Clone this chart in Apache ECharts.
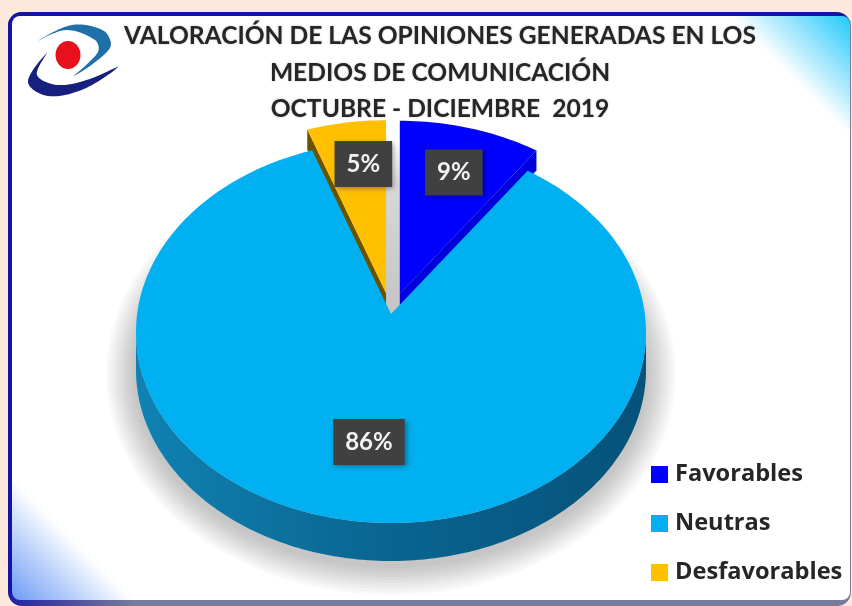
<!DOCTYPE html>
<html lang="es">
<head>
  <meta charset="UTF-8">
  <style>
    html, body { margin: 0; padding: 0; background: #fde9dc; }
    #container { width: 852px; height: 606px; }
  </style>
  <script src="https://cdn.jsdelivr.net/npm/echarts@6/dist/echarts.min.js"></script>
</head>
<body>
  <div id="container"></div>
  <script>
    var titleText = 'VALORACIÓN DE LAS OPINIONES GENERADAS EN LOS\nMEDIOS DE COMUNICACIÓN\nOCTUBRE - DICIEMBRE  2019';
    var categories = ['Favorables', 'Neutras', 'Desfavorables'];
    var values = [9, 86, 5];
    var colors = ['#0000ff', '#00b0f0', '#ffc000'];
    var sideColors = ['#0000dc', '#0a6f9c', '#6b5200'];

    // the tilted pie: ellipse, slice apex sits above the ellipse centre
    var cx = 391, cy = 332, rx = 255, ry = 191;
    var apexLift = 18, sideDepth = 38, cutDepth = 20;
    var explode = [21, 0, 21];
    var labelFx = [0.76, 0.69, 0.57];
    var labelFy = [0.76, 0.58, 0.78];
    var total = values.reduce(function (a, b) { return a + b; }, 0);

    function startAngle(i) {
      var s = 0;
      for (var k = 0; k < i; k++) s += values[k];
      return s / total * Math.PI * 2;
    }
    function rim(a, ox, oy) {
      return [cx + ox + rx * Math.sin(a), cy + oy - ry * Math.cos(a)];
    }
    function arc(a0, a1, ox, oy) {
      var pts = [];
      var n = Math.max(4, Math.round((a1 - a0) / 0.02));
      for (var j = 0; j <= n; j++) pts.push(rim(a0 + (a1 - a0) * j / n, ox, oy));
      return pts;
    }

    function renderSlice(i) {
      return function (params, api) {
        var a0 = startAngle(i);
        var a1 = a0 + api.value(0) / total * Math.PI * 2;
        var mid = (a0 + a1) / 2;
        var ox = explode[i] * Math.sin(mid) * 1.5;
        var oy = -explode[i] * Math.abs(Math.cos(mid));
        var apex = [cx + ox, cy + oy - apexLift];
        var kids = [];
        if (explode[i] > 0) {
          // cut face that shows under the pulled-out slice
          var edge = i === 0 ? a1 : a0;
          var c = rim(edge, ox, oy);
          kids.push({
            type: 'polygon',
            shape: { points: [apex, c, [c[0], c[1] + cutDepth], [apex[0], apex[1] + cutDepth]] },
            style: { fill: sideColors[i] }
          });
        } else {
          // front wall of the big slice
          var front = arc(Math.PI / 2, Math.PI * 1.5, 0, 0)
            .concat(arc(Math.PI / 2, Math.PI * 1.5, 0, sideDepth).reverse());
          kids.push({
            type: 'polygon',
            shape: { points: front },
            style: {
              fill: new echarts.graphic.LinearGradient(0, 0, 1, 0, [
                { offset: 0, color: '#0f82b3' },
                { offset: 0.5, color: '#0a6490' },
                { offset: 1, color: '#05527a' }
              ])
            }
          });
        }
        kids.push({
          type: 'polygon',
          shape: { points: [apex].concat(arc(a0, a1, ox, oy)) },
          style: { fill: colors[i] }
        });
        return { type: 'group', children: kids };
      };
    }

    function renderLabel(i) {
      return function (params, api) {
        var a0 = startAngle(i);
        var a1 = a0 + api.value(0) / total * Math.PI * 2;
        var mid = (a0 + a1) / 2;
        var ox = explode[i] * Math.sin(mid) * 1.5;
        var oy = -explode[i] * Math.abs(Math.cos(mid));
        return {
          type: 'text',
          style: {
            x: cx + ox + rx * Math.sin(mid) * labelFx[i],
            y: cy + oy - ry * Math.cos(mid) * labelFy[i],
            text: api.value(0) + '%',
            align: 'center',
            verticalAlign: 'middle',
            fill: '#f2f2f2',
            font: 'bold 24px Lato',
            backgroundColor: '#404040',
            padding: [11, 12, 11, 12],
            shadowColor: 'rgba(0,0,0,0.35)',
            shadowBlur: 5,
            shadowOffsetX: 2,
            shadowOffsetY: 2
          }
        };
      };
    }

    var sliceSeries = [0, 2, 1].map(function (i) {
      return {
        type: 'custom',
        name: categories[i],
        coordinateSystem: 'none',
        itemStyle: { color: colors[i] },
        data: [[values[i]]],
        renderItem: renderSlice(i),
        silent: true
      };
    });

    var labelSeries = [0, 1, 2].map(function (i) {
      return {
        type: 'custom',
        name: 'etiqueta' + i,
        coordinateSystem: 'none',
        z: 5,
        data: [[values[i]]],
        renderItem: renderLabel(i),
        silent: true
      };
    });

    // soft grey halo under the pie wall, stacked translucent ellipses
    var haloSeries = {
      type: 'custom',
      name: 'sombra',
      coordinateSystem: 'none',
      data: [[0]],
      silent: true,
      renderItem: function () {
        var rings = [];
        for (var k = 10; k >= 1; k--) {
          var pts = [];
          for (var j = 0; j < 180; j++) {
            var a = j / 180 * Math.PI * 2;
            pts.push([cx + (rx + k * 3) * Math.sin(a), cy + sideDepth + 4 - (ry + k * 3) * Math.cos(a)]);
          }
          rings.push({ type: 'polygon', shape: { points: pts }, style: { fill: 'rgba(0,0,0,0.024)' } });
        }
        return { type: 'group', children: rings };
      }
    };

    // grey shadow left in the gap between the two pulled-out slices
    var gapSeries = {
      type: 'custom',
      name: 'hueco',
      coordinateSystem: 'none',
      data: [[values[2]]],
      silent: true,
      renderItem: function (params, api) {
        var a = api.value(0) / total * Math.PI * 2;
        return {
          type: 'polygon',
          shape: { points: [[cx, cy - apexLift]].concat(arc(-a, 0.5, 0, 0)) },
          style: {
            fill: new echarts.graphic.LinearGradient(0, 0, 0, 1, [
              { offset: 0, color: '#ffffff' },
              { offset: 0.25, color: '#d8d8d8' },
              { offset: 1, color: '#c4c4c4' }
            ])
          }
        };
      }
    };

    var myChart = echarts.init(document.getElementById('container'));
    myChart.setOption({
      backgroundColor: '#fde9dc',
      animation: false,
      title: {
        text: titleText,
        left: 435,
        top: 13,
        textAlign: 'center',
        textStyle: {
          fontFamily: 'Lato',
          fontWeight: 'bold',
          fontSize: 24.6,
          lineHeight: 36.5,
          color: '#262626',
          textShadowColor: 'rgba(0,0,0,0.25)',
          textShadowBlur: 2
        }
      },
      legend: {
        data: categories,
        orient: 'vertical',
        left: 651,
        top: 462,
        padding: 0,
        icon: 'rect',
        itemWidth: 17,
        itemHeight: 17,
        itemGap: 24,
        selectedMode: false,
        textStyle: {
          fontFamily: 'Open Sans',
          fontWeight: 'bold',
          fontSize: 23.6,
          color: '#262626',
          lineHeight: 23,
          padding: [2, 0, 0, 2]
        }
      },
      graphic: [
        {
          type: 'rect', z: -10, shape: { x: 8, y: 12, width: 843, height: 594, r: 14 },
          style: {
            fill: new echarts.graphic.LinearGradient(0, 0, 1, 0, [
              { offset: 0, color: '#2020a4' },
              { offset: 0.15, color: '#777c9c' },
              { offset: 1, color: '#777c9c' }
            ])
          }
        },
        { type: 'rect', z: -9, shape: { x: 8, y: 12, width: 842, height: 588, r: 14 }, style: { fill: '#1414a8' } },
        {
          type: 'rect', z: -8, shape: { x: 12, y: 16, width: 838, height: 584, r: 8 },
          style: {
            fill: new echarts.graphic.LinearGradient(850, 16, 140, 726, [
              { offset: 0, color: '#22c8fb' },
              { offset: 0.085, color: '#ffffff' },
              { offset: 0.915, color: '#ffffff' },
              { offset: 1, color: '#6f9cf6' }
            ], true)
          }
        },
        // logo
        {
          type: 'polygon', z: -7,
          shape: { smooth: 0.35, points: [[118, 67], [84, 89], [48, 96], [28, 82], [47, 53], [37, 75], [58, 85], [90, 79]] },
          style: { fill: '#17207e' }
        },
        {
          type: 'polygon', z: -7,
          shape: { smooth: 0.35, points: [[38, 41], [72, 25], [104, 31], [110, 48], [74, 76], [98, 52], [95, 40], [66, 30]] },
          style: { fill: '#1f6fa8' }
        },
        { type: 'ellipse', z: -6, shape: { cx: 68, cy: 55, rx: 12.5, ry: 14 }, style: { fill: '#e8101c' } }
      ],
      series: [haloSeries, gapSeries].concat(sliceSeries).concat(labelSeries)
    });
  </script>
</body>
</html>
